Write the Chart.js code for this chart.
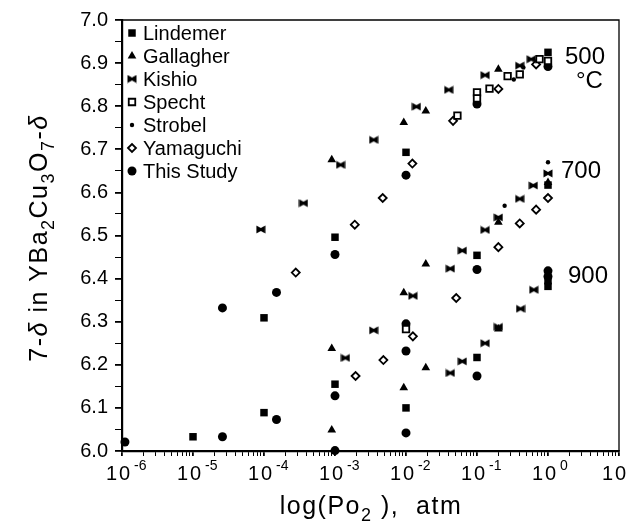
<!DOCTYPE html>
<html>
<head>
<meta charset="utf-8">
<script src="https://cdn.jsdelivr.net/npm/chart.js@4.4.1/dist/chart.umd.min.js"></script>
<style>
  html, body { margin: 0; padding: 0; background: #fff; }
  #wrap { width: 634px; height: 526px; }
</style>
</head>
<body>
<div id="wrap"><canvas id="chart" width="634" height="526"></canvas></div>
<script>
// --- data (x = Po2 in atm, y = 7-delta) ---
const lindemerX = [1e-5, 1e-4, 1e-4, 1e-3, 1e-3, 1e-2, 1e-2, 0.1, 0.1, 1, 1, 1, 1];
const lindemerY = [6.033, 6.089, 6.309, 6.496, 6.155, 6.100, 6.693, 6.454, 6.217, 6.925, 6.617, 6.395, 6.382];

const gallagherX = [9e-4, 9e-4, 9e-4, 0.0093, 0.0093, 0.0093, 0.019, 0.019, 0.019, 0.2, 0.2, 0.2, 1];
const gallagherY = [6.676, 6.238, 6.049, 6.762, 6.367, 6.147, 6.789, 6.434, 6.193, 6.886, 6.531, 6.283, 6.623];

const kishioX = [9e-5, 3.6e-4, 1.2e-3, 3.5e-3, 0.014, 0.04, 0.13, 0.40, 0.58,
                 1.4e-3, 3.5e-3, 0.0125, 0.042, 0.062, 0.13, 0.2, 0.40, 0.62, 1.0,
                 0.042, 0.062, 0.13, 0.2, 0.41, 0.63];
const kishioY = [6.514, 6.575, 6.664, 6.722, 6.799, 6.838, 6.872, 6.894, 6.909,
                 6.216, 6.280, 6.360, 6.423, 6.465, 6.513, 6.542, 6.585, 6.616, 6.644,
                 6.181, 6.208, 6.250, 6.288, 6.330, 6.374];

const spechtX = [0.01, 0.053, 0.1, 0.1, 0.15, 0.27, 0.40, 0.76, 1.0];
const spechtY = [6.283, 6.778, 6.832, 6.818, 6.841, 6.870, 6.874, 6.909, 6.905];

const strobelX = [0.33, 0.45, 0.245, 1.0];
const strobelY = [6.862, 6.890, 6.569, 6.670];

const yamaguchiX = [2.8e-4, 1.9e-3, 4.7e-3, 0.0123, 0.046, 0.2, 0.68,
                    1.95e-3, 4.8e-3, 0.0125, 0.051, 0.2, 0.40, 0.68, 1.0];
const yamaguchiY = [6.414, 6.525, 6.587, 6.667, 6.766, 6.840, 6.897,
                    6.174, 6.211, 6.266, 6.355, 6.473, 6.528, 6.560, 6.587];

const studyX = [1.1e-6, 2.6e-5, 2.6e-5, 1.5e-4, 1.5e-4, 1e-3, 1e-3, 1e-3,
                1e-2, 1e-2, 1e-2, 1e-2, 0.1, 0.1, 0.1, 1, 1, 1];
const studyY = [6.021, 6.033, 6.332, 6.368, 6.073, 6.456, 6.128, 6.001,
                6.640, 6.295, 6.232, 6.042, 6.421, 6.174, 6.805, 6.418, 6.405, 6.892];

// axis ticks
const xTickPowers = [-6, -5, -4, -3, -2, -1, 0, 1];
const yTickLabels = [6.0, 6.1, 6.2, 6.3, 6.4, 6.5, 6.6, 6.7, 6.8, 6.9, 7.0];

// isotherm labels
const tempLabels = ['500', '700', '900'];

const FONT = '"Liberation Sans", Arial, Helvetica, sans-serif';
Chart.defaults.font.family = FONT;
Chart.defaults.color = '#000';

function toPoints(xs, ys) {
  return xs.map((x, i) => ({ x: x, y: ys[i] }));
}

// filled bow-tie marker used for Kishio
function makeBowtie() {
  const c = document.createElement('canvas');
  c.width = 10; c.height = 9;
  const g = c.getContext('2d');
  g.fillStyle = '#000';
  g.beginPath();
  g.moveTo(0.5, 0.5);
  g.lineTo(5, 3);
  g.lineTo(9.5, 0.5);
  g.lineTo(9.5, 8.5);
  g.lineTo(5, 6);
  g.lineTo(0.5, 8.5);
  g.closePath();
  g.fill();
  return c;
}
const bowtie = makeBowtie();

function series(label, xs, ys, style, radius, fill, border) {
  return {
    label: label,
    data: toPoints(xs, ys),
    showLine: false,
    clip: false,
    pointStyle: style,
    pointRadius: radius,
    pointHoverRadius: radius,
    pointBackgroundColor: fill,
    pointBorderColor: '#000',
    pointBorderWidth: border
  };
}

const datasets = [
  series('Lindemer', lindemerX, lindemerY, 'rect', 5.3, '#000', 0),
  series('Gallagher', gallagherX, gallagherY, 'triangle', 5, '#000', 0),
  series('Kishio', kishioX, kishioY, bowtie, 5, '#000', 0),
  series('Specht', spechtX, spechtY, 'rect', 4.6, '#fff', 1.8),
  series('Strobel', strobelX, strobelY, 'circle', 2.2, '#000', 0),
  series('Yamaguchi', yamaguchiX, yamaguchiY, 'rectRot', 4, '#fff', 1.8),
  series('This Study', studyX, studyY, 'circle', 4.5, '#000', 0)
];

// draws a run of text pieces, some as subscripts, centred on x
function drawRich(ctx, parts, x, y, size, spacing) {
  const subSize = Math.round(size * 0.7);
  const fontOf = p => (p.it ? 'italic ' : '') + (p.sub ? subSize : size) + 'px ' + FONT;
  ctx.letterSpacing = (spacing || 0) + 'px';
  let total = 0;
  parts.forEach(p => { ctx.font = fontOf(p); total += ctx.measureText(p.t).width; });
  let cx = x - total / 2;
  ctx.textAlign = 'left';
  ctx.textBaseline = 'alphabetic';
  parts.forEach(p => {
    ctx.font = fontOf(p);
    ctx.fillText(p.t, cx, y + (p.sub ? size * 0.28 : 0));
    cx += ctx.measureText(p.t).width;
  });
  ctx.letterSpacing = '0px';
}

const decor = {
  id: 'decor',
  beforeDraw(chart) {
    const ctx = chart.ctx;
    ctx.save();
    ctx.fillStyle = '#fff';
    ctx.fillRect(0, 0, chart.width, chart.height);
    ctx.restore();
  },
  afterDraw(chart) {
    const ctx = chart.ctx;
    const a = chart.chartArea;
    const xs = chart.scales.x;
    ctx.save();
    ctx.fillStyle = '#000';

    // thin frame on top and right
    ctx.strokeStyle = '#000';
    ctx.lineWidth = 1.3;
    ctx.beginPath();
    ctx.moveTo(a.left, a.top);
    ctx.lineTo(a.right, a.top);
    ctx.lineTo(a.right, a.bottom);
    ctx.stroke();

    // x tick labels as 10 with superscript exponent
    xTickPowers.forEach(p => {
      const px = xs.getPixelForValue(Math.pow(10, p));
      ctx.letterSpacing = '2px';
      ctx.font = '20px ' + FONT;
      ctx.textAlign = 'center';
      ctx.textBaseline = 'alphabetic';
      const w = ctx.measureText('10').width;
      const bx = p === 1 ? px - 4 : px - 3;
      ctx.fillText('10', bx, a.bottom + 29);
      ctx.letterSpacing = '0px';
      if (p !== 1) {
        ctx.font = '14px ' + FONT;
        ctx.textAlign = 'left';
        ctx.fillText(String(p), bx + w / 2 + 2, a.bottom + 19);
      }
    });

    // legend inside the plot
    chart.data.datasets.forEach((ds, i) => {
      const y = a.top + 13 + i * 23;
      ctx.fillStyle = ds.pointBackgroundColor;
      ctx.strokeStyle = '#000';
      ctx.lineWidth = ds.pointBorderWidth;
      Chart.helpers.drawPoint(ctx, {
        pointStyle: ds.pointStyle,
        radius: ds.pointRadius,
        borderWidth: ds.pointBorderWidth,
        rotation: 0
      }, a.left + 10, y);
      ctx.fillStyle = '#000';
      ctx.font = '20px ' + FONT;
      ctx.textAlign = 'left';
      ctx.textBaseline = 'middle';
      ctx.fillText(ds.label, a.left + 21, y + 1);
    });

    // isotherm temperatures
    ctx.font = '24px ' + FONT;
    ctx.textAlign = 'left';
    ctx.textBaseline = 'alphabetic';
    ctx.fillText(tempLabels[0], a.right - 54, 64);
    ctx.fillText('\u00B0C', a.right - 43, 88);
    ctx.fillText(tempLabels[1], a.right - 58, 178);
    ctx.fillText(tempLabels[2], a.right - 51, 283);

    // x axis title
    drawRich(ctx, [
      { t: 'log(Po' }, { t: '2', sub: true }, { t: ' ),  atm' }
    ], 371, 514, 25, 1.5);

    // y axis title (rotated)
    ctx.save();
    ctx.translate(47, 238);
    ctx.rotate(-Math.PI / 2);
    drawRich(ctx, [
      { t: '7-' }, { t: '\u03B4', it: true }, { t: ' in YBa' }, { t: '2', sub: true },
      { t: 'Cu' }, { t: '3', sub: true }, { t: 'O' }, { t: '7', sub: true },
      { t: '-' }, { t: '\u03B4', it: true }
    ], 0, 0, 25, 1.5);
    ctx.restore();

    ctx.restore();
  }
};

new Chart(document.getElementById('chart'), {
  type: 'scatter',
  data: { datasets: datasets },
  plugins: [decor],
  options: {
    responsive: false,
    animation: false,
    events: [],
    layout: { padding: { left: 0, right: 15, top: 20, bottom: 0 } },
    plugins: {
      legend: { display: false },
      tooltip: { enabled: false }
    },
    scales: {
      x: {
        type: 'logarithmic',
        min: 1e-6,
        max: 10,
        border: { display: true, color: '#000', width: 2.2 },
        grid: {
          drawOnChartArea: false,
          drawTicks: true,
          tickLength: 5,
          color: '#000',
          lineWidth: c => (c.tick && c.tick.major ? 1.8 : 1)
        },
        ticks: { display: false, autoSkip: false },
        afterBuildTicks(scale) {
          const t = [];
          for (let p = -6; p <= 0; p++) {
            for (let k = 1; k <= 9; k++) t.push({ value: k * Math.pow(10, p), major: k === 1 });
          }
          t.push({ value: 10, major: true });
          scale.ticks = t;
        },
        afterFit(scale) { scale.height = 75; }
      },
      y: {
        type: 'linear',
        min: 6.0,
        max: 7.0,
        border: { display: true, color: '#000', width: 2.2 },
        grid: {
          drawOnChartArea: false,
          drawTicks: true,
          tickLength: 7,
          color: '#000',
          lineWidth: c => (c.tick && c.tick.major ? 1.8 : 1)
        },
        ticks: {
          autoSkip: false,
          padding: 7,
          font: { size: 20, family: FONT },
          color: '#000',
          callback: (v) => {
            const hit = yTickLabels.find(t => Math.abs(t - v) < 1e-6);
            return hit !== undefined ? hit.toFixed(1) : '';
          }
        },
        afterBuildTicks(scale) {
          const t = [];
          for (let i = 0; i <= 20; i++) {
            const v = Math.round((6 + i * 0.05) * 100) / 100;
            t.push({ value: v, major: i % 2 === 0 });
          }
          scale.ticks = t;
        },
        afterFit(scale) { scale.width = 122; }
      }
    }
  }
});
</script>
</body>
</html>
